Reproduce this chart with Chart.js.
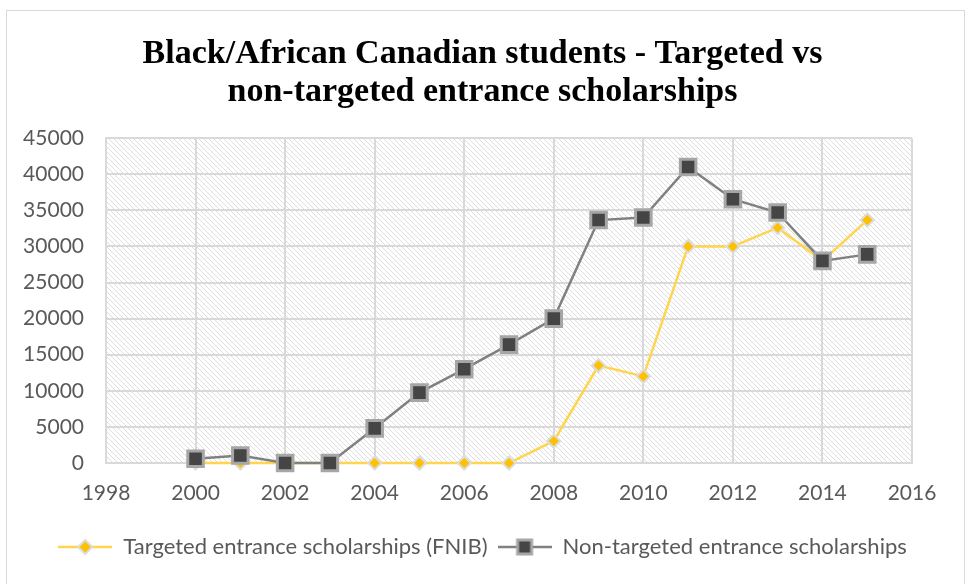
<!DOCTYPE html>
<html>
<head>
<meta charset="utf-8">
<script src="https://cdn.jsdelivr.net/npm/chart.js@4"></script>
<style>
  html, body { margin: 0; padding: 0; background: #fff; }
  #frame { position: absolute; left: 6px; top: 10px; width: 957px; height: 580px; border: 1px solid #d9d9d9; }
  #wrap { position: absolute; left: 0; top: 0; width: 965px; height: 584px; }
</style>
</head>
<body>
<div id="frame"></div>
<div id="wrap"><canvas id="lineChart"></canvas></div>
<script>
const years = [2000, 2001, 2002, 2003, 2004, 2005, 2006, 2007, 2008, 2009, 2010, 2011, 2012, 2013, 2014, 2015];
const targeted = [0, 0, 0, 0, 0, 0, 0, 0, 3050, 13500, 12000, 30000, 30000, 32600, 28000, 33650];
const nonTargeted = [600, 1050, 0, 0, 4800, 9750, 13000, 16400, 20000, 33650, 34000, 41000, 36550, 34700, 28000, 28900];
const seriesNames = ["Targeted entrance scholarships (FNIB)", "Non-targeted entrance scholarships"];
const titleLines = ["Black/African Canadian students - Targeted vs", "non-targeted entrance scholarships"];

const yellow = "#FFC000";
const yellowLine = "#FFD54F";
const darkSquare = "#454545";
const grayLine = "#808080";
const labelColor = "#595959";

// hatched background tile for plot area
function makeHatch() {
  const c = document.createElement('canvas');
  c.width = 5; c.height = 5;
  const g = c.getContext('2d');
  g.fillStyle = '#fff';
  g.fillRect(0, 0, 5, 5);
  g.strokeStyle = '#dedede';
  g.lineWidth = 1;
  g.beginPath();
  g.moveTo(-1, -1); g.lineTo(6, 6);
  g.moveTo(-1, 4); g.lineTo(1, 6);
  g.moveTo(4, -1); g.lineTo(6, 1);
  g.stroke();
  return c;
}

// legend icons: line with marker in the middle
function legendIcon(kind) {
  const c = document.createElement('canvas');
  c.width = 54; c.height = 22;
  const g = c.getContext('2d');
  g.lineWidth = 2.5;
  g.strokeStyle = kind === 'diamond' ? yellowLine : grayLine;
  g.beginPath(); g.moveTo(0, 11); g.lineTo(54, 11); g.stroke();
  if (kind === 'diamond') {
    g.fillStyle = yellow; g.strokeStyle = '#dcdcdc'; g.lineWidth = 2;
    g.beginPath();
    g.moveTo(27, 4); g.lineTo(34, 11); g.lineTo(27, 18); g.lineTo(20, 11); g.closePath();
    g.fill(); g.stroke();
  } else {
    g.fillStyle = darkSquare; g.strokeStyle = '#a6a6a6'; g.lineWidth = 3;
    g.fillRect(20, 4, 14, 14); g.strokeRect(20, 4, 14, 14);
  }
  return c;
}

const hatchTile = makeHatch();
const icons = [legendIcon('diamond'), legendIcon('square')];

const plotBackground = {
  id: 'plotBackground',
  beforeDraw(chart) {
    const { ctx, chartArea: a } = chart;
    ctx.save();
    ctx.fillStyle = ctx.createPattern(hatchTile, 'repeat');
    ctx.fillRect(a.left, a.top, a.right - a.left, a.bottom - a.top);
    ctx.restore();
  }
};

const ch = document.getElementById('lineChart');

new Chart(ch, {
  type: 'line',
  data: {
    datasets: [{
      label: seriesNames[0],
      data: years.map((y, i) => ({ x: y, y: targeted[i] })),
      borderColor: yellowLine,
      borderWidth: 2.5,
      pointStyle: 'rectRot',
      pointRadius: 6.5,
      pointBackgroundColor: yellow,
      pointBorderColor: '#dcdcdc',
      pointBorderWidth: 2,
      tension: 0,
      clip: false,
      order: 1
    }, {
      label: seriesNames[1],
      data: years.map((y, i) => ({ x: y, y: nonTargeted[i] })),
      borderColor: grayLine,
      borderWidth: 2.5,
      pointStyle: 'rect',
      pointRadius: 11,
      pointBackgroundColor: darkSquare,
      pointBorderColor: '#a6a6a6',
      pointBorderWidth: 3,
      tension: 0,
      clip: false,
      order: 0
    }]
  },
  options: {
    responsive: true,
    maintainAspectRatio: false,
    animation: false,
    layout: { padding: { left: 0, right: 0, top: 0, bottom: 16 } },
    scales: {
      x: {
        type: 'linear',
        min: 1998,
        max: 2016,
        ticks: {
          stepSize: 2,
          color: labelColor,
          font: { family: 'Lato', size: 21 },
          padding: 18,
          callback: v => String(v)
        },
        grid: { color: '#d9d9d9', lineWidth: 2, drawTicks: false },
        border: { color: '#d9d9d9', width: 2 },
        afterFit: s => { s.height = 63; }
      },
      y: {
        min: 0,
        max: 45000,
        ticks: {
          stepSize: 5000,
          color: labelColor,
          font: { family: 'Lato', size: 21 },
          padding: 22,
          callback: v => String(v)
        },
        grid: { color: '#d9d9d9', lineWidth: 2, drawTicks: false },
        border: { color: '#d9d9d9', width: 2 },
        afterFit: s => { s.width = 106; }
      },
      // empty right-hand spacer so title and legend stay centred on the whole canvas
      spacer: {
        position: 'right',
        display: true,
        grid: { display: false, drawTicks: false },
        border: { display: false },
        ticks: { display: false },
        afterFit: s => { s.width = 53; }
      }
    },
    plugins: {
      title: {
        display: true,
        text: titleLines,
        color: '#000',
        font: { family: 'Liberation Serif', size: 34, weight: 'bold', lineHeight: 1.12 },
        padding: { top: 35, bottom: 27 }
      },
      legend: {
        display: true,
        position: 'bottom',
        labels: {
          usePointStyle: true,
          pointStyleWidth: 54,
          color: labelColor,
          font: { family: 'Lato', size: 22 },
          padding: 10,
          generateLabels: chart => chart.data.datasets.map((d, i) => ({
            text: d.label,
            pointStyle: icons[i],
            fontColor: labelColor,
            datasetIndex: i,
            hidden: false,
            lineWidth: 0
          }))
        }
      },
      tooltip: { enabled: false }
    }
  },
  plugins: [plotBackground]
});
</script>
</body>
</html>
